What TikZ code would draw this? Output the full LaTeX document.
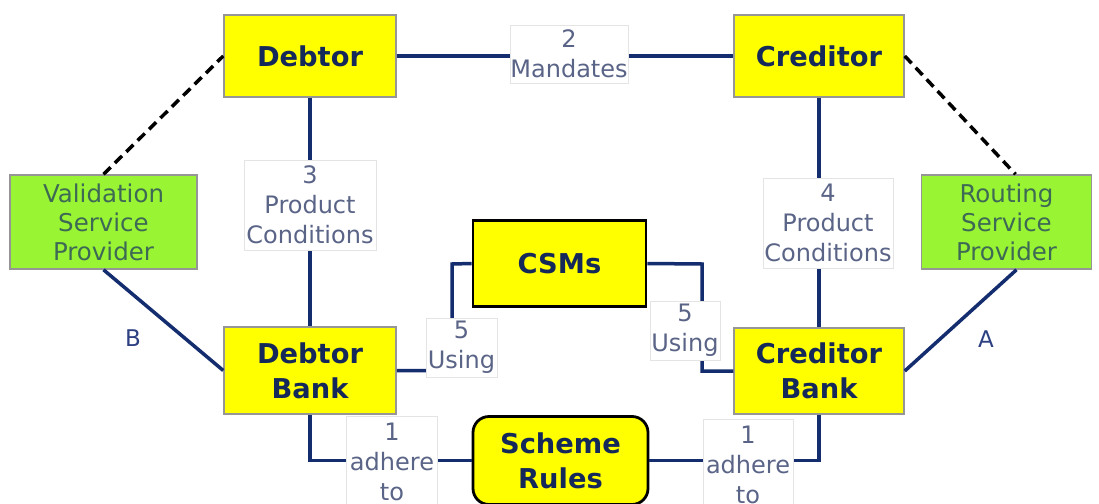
\documentclass[tikz,border=0pt]{standalone}
\usepackage{fontspec}
\setmainfont{DejaVu Sans}
\usetikzlibrary{calc}
\definecolor{yel}{RGB}{255,255,0}
\definecolor{grn}{RGB}{153,245,51}
\definecolor{boxgray}{RGB}{150,150,150}
\definecolor{lblgray}{RGB}{228,228,228}
\definecolor{navy}{RGB}{20,40,90}
\definecolor{linec}{RGB}{20,45,110}
\definecolor{lbltext}{RGB}{90,100,135}
\definecolor{grntext}{RGB}{62,105,85}
\definecolor{abtext}{RGB}{45,65,130}
\begin{document}
\begin{tikzpicture}[x=1pt,y=-1pt,
  ybox/.style={draw=boxgray, line width=1.5pt, fill=yel, inner sep=0pt, text=navy, align=center,
    font=\bfseries\fontsize{27.3}{35}\selectfont},
  csbox/.style={ybox, draw=black, line width=2.8pt},
  rbox/.style={csbox, rounded corners=16pt},
  gbox/.style={draw=boxgray, line width=1.5pt, fill=grn, inner sep=0pt, text=grntext, align=center,
    font=\fontsize{24.5}{29}\selectfont},
  lbl/.style={draw=lblgray, line width=0.8pt, fill=white, inner sep=0pt, text=lbltext, align=center,
    font=\fontsize{24}{30}\selectfont},
  conn/.style={draw=linec, line width=3.5pt},
  dconn/.style={draw=black, line width=3.5pt, dash pattern=on 10pt off 6pt},
  abl/.style={text=abtext, font=\fontsize{23}{29}\selectfont, inner sep=0pt}
]
\useasboundingbox (0,0) rectangle (1099,503);
\clip (0,0) rectangle (1099,503);
\fill[white] (0,0) rectangle (1099,503);

% boxes
\node[ybox, minimum width=172pt, minimum height=82pt] (debtor) at (310,56) {Debtor};
\node[ybox, minimum width=170pt, minimum height=82pt] (creditor) at (819,56) {Creditor};
\node[ybox, minimum width=172pt, minimum height=87pt] (dbank) at (310,370.5) {Debtor\\Bank};
\node[ybox, minimum width=170pt, minimum height=86pt] (cbank) at (819,371) {Creditor\\Bank};
\node[csbox, minimum width=173pt, minimum height=86pt] (csms) at (559.5,263.5) {CSMs};
\node[rbox, minimum width=175pt, minimum height=88pt] (rules) at (560.5,460.5) {Scheme\\Rules};
\node[gbox, minimum width=187pt, minimum height=94pt] (vsp) at (103.5,222) {Validation\\Service\\Provider};
\node[gbox, minimum width=170pt, minimum height=94pt] (rsp) at (1006.5,222) {Routing\\Service\\Provider};

% connectors
\coordinate (ca) at (452,264);
\coordinate (cb) at (702,264);
\draw[conn] (debtor.east) -- (creditor.west);
\draw[conn] (debtor.south) -- (dbank.north);
\draw[conn] (creditor.south) -- (cbank.north);
\draw[conn] (dbank.south) |- (rules.west);
\draw[conn] (cbank.south) |- (rules.east);
\draw[conn] (dbank.east) -| (ca) -- (csms.west);
\draw[conn] (csms.east) -- (cb) |- (cbank.west);
\draw[conn] (vsp.south) -- (dbank.west);
\draw[conn] (cbank.east) -- ($(rsp.south)+(10,0)$);
\draw[dconn] (vsp.north) -- (debtor.west);
\draw[dconn] (creditor.east) -- ($(rsp.north)+(9,0)$);

% labels on connectors
\node[lbl, minimum width=118pt, minimum height=58pt] (l2) at (569,54) {2\\Mandates};
\node[lbl, minimum width=132pt, minimum height=90pt] (l3) at (310,205) {3\\Product\\Conditions};
\node[lbl, minimum width=130pt, minimum height=90pt] (l4) at (828,223) {4\\Product\\Conditions};
\node[lbl, minimum width=71pt, minimum height=59pt] (l5a) at (461.5,347.5) {5\\Using};
\node[lbl, minimum width=70pt, minimum height=59pt] (l5b) at (685,330.5) {5\\Using};
\node[lbl, minimum width=91pt, minimum height=92pt] (l1a) at (392,462) {1\\adhere\\to};
\node[lbl, minimum width=90pt, minimum height=92pt] (l1b) at (748,465) {1\\adhere\\to};

\node[abl] (lb) at (133,338) {B};
\node[abl] (la) at (986,339) {A};
\end{tikzpicture}
\end{document}
